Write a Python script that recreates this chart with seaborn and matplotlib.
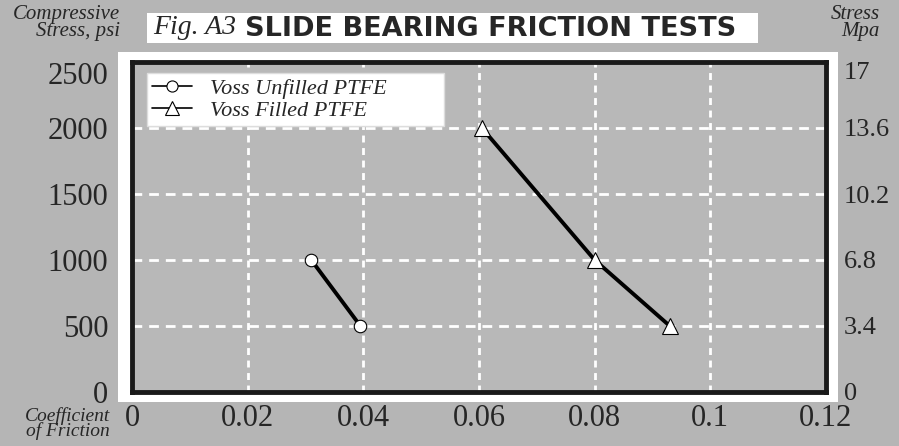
import matplotlib
matplotlib.use('Agg')
import matplotlib.pyplot as plt
import matplotlib.patches as patches
import seaborn as sns
import pandas as pd

# values
unfilled_friction = [0.031, 0.0395]
unfilled_stress = [1000, 500]
filled_friction = [0.0605, 0.080, 0.093]
filled_stress = [2000, 1000, 500]
series_names = ['Voss Unfilled PTFE', 'Voss Filled PTFE']

x_ticks = [0, 0.02, 0.04, 0.06, 0.08, 0.1, 0.12]
x_labels = ['0', '0.02', '0.04', '0.06', '0.08', '0.1', '0.12']
psi_ticks = [0, 500, 1000, 1500, 2000, 2500]
mpa_ticks = [0, 3.4, 6.8, 10.2, 13.6, 17]
mpa_labels = ['0', '3.4', '6.8', '10.2', '13.6', '17']

df = pd.concat([
    pd.DataFrame({'friction': unfilled_friction, 'stress': unfilled_stress, 'series': series_names[0]}),
    pd.DataFrame({'friction': filled_friction, 'stress': filled_stress, 'series': series_names[1]}),
])

sns.set_style('white')
plt.rcParams['font.family'] = ['Liberation Serif', 'DejaVu Serif']

bg = '#b5b5b5'
fig = plt.figure(figsize=(8.99, 4.46), dpi=100, facecolor=bg)

# white frame behind the plot area and behind the title
fig.patches.append(patches.Rectangle((118/899, 1-402/446), 720/899, 350/446,
                                     transform=fig.transFigure, facecolor='white',
                                     edgecolor='none', zorder=-2))
fig.patches.append(patches.Rectangle((147/899, 1-43/446), 611/899, 30/446,
                                     transform=fig.transFigure, facecolor='white',
                                     edgecolor='none', zorder=-2))

ax = fig.add_axes([132/899, 1-392/446, 694/899, 330/446])
ax.set_facecolor('#b8b8b8')

sns.lineplot(data=df, x='friction', y='stress', hue='series', style='series',
             palette={series_names[0]: 'black', series_names[1]: 'black'},
             markers={series_names[0]: 'o', series_names[1]: '^'},
             dashes=False, linewidth=2.8, markersize=11,
             markerfacecolor='white', markeredgecolor='black', markeredgewidth=0.8,
             legend=False, ax=ax, zorder=3)
ax.get_lines()[0].set_markersize(9)
ax.get_lines()[1].set_markersize(12)

ax.set_xlim(0, 0.12)
ax.set_ylim(0, 2500)
ax.set_xticks(x_ticks)
ax.set_xticklabels(x_labels)
ax.set_yticks(psi_ticks)
ax.set_xlabel('')
ax.set_ylabel('')
ax.tick_params(axis='x', length=0, pad=9, labelsize=22)
ax.tick_params(axis='y', length=0, pad=17, labelsize=22)

for v in x_ticks[1:-1]:
    ax.axvline(v, color='white', linestyle=(0, (2.5, 2)), linewidth=2, zorder=1)
for v in psi_ticks[1:-1]:
    ax.axhline(v, color='white', linestyle=(0, (3.5, 2.5)), linewidth=2, zorder=1)

for s in ax.spines.values():
    s.set_linewidth(3.5)
    s.set_color('#1a1a1a')

ax2 = ax.twinx()
ax2.set_ylim(0, 17)
ax2.set_yticks(mpa_ticks)
ax2.set_yticklabels(mpa_labels)
ax2.tick_params(axis='y', length=0, pad=13, labelsize=19)
for s in ax2.spines.values():
    s.set_visible(False)

# top labels sit a little below the frame top
ax.get_yticklabels()[-1].set_va('top')
ax2.get_yticklabels()[-1].set_va('top')

handles = ax.get_lines()[:2]
leg = ax.legend(handles, series_names, loc='upper left', mode='expand',
                bbox_to_anchor=(0.005, 1.0, 0.46, 0),
                prop={'family': 'Liberation Serif', 'style': 'italic', 'size': 16},
                frameon=True, fancybox=False, framealpha=1, edgecolor='#dddddd',
                handlelength=1.8, borderpad=0.25, labelspacing=0.05, handletextpad=0.8)
leg.get_frame().set_linewidth(1)
for h in leg.legend_handles:
    h.set_linewidth(1.2)
leg.legend_handles[0].set_markersize(8)
leg.legend_handles[1].set_markersize(10)

fig.text(153/899, 1-28/446, 'Fig. A3', fontsize=20, style='italic', va='center', ha='left')
fig.text(245/899, 1-29/446, 'SLIDE BEARING FRICTION TESTS', fontsize=19.5, fontweight='bold',
         family='DejaVu Sans', va='center', ha='left')

fig.text(120/899, 1-23/446, 'Compressive\nStress, psi', fontsize=15, style='italic',
         ha='right', va='center', linespacing=0.8)
fig.text(880/899, 1-23/446, 'Stress\nMpa', fontsize=15, style='italic',
         ha='right', va='center', linespacing=0.8)
fig.text(110/899, 1-424/446, 'Coefficient\nof Friction', fontsize=14, style='italic',
         ha='right', va='center', linespacing=0.8)

fig.savefig('out.png', dpi=100, facecolor=bg)
